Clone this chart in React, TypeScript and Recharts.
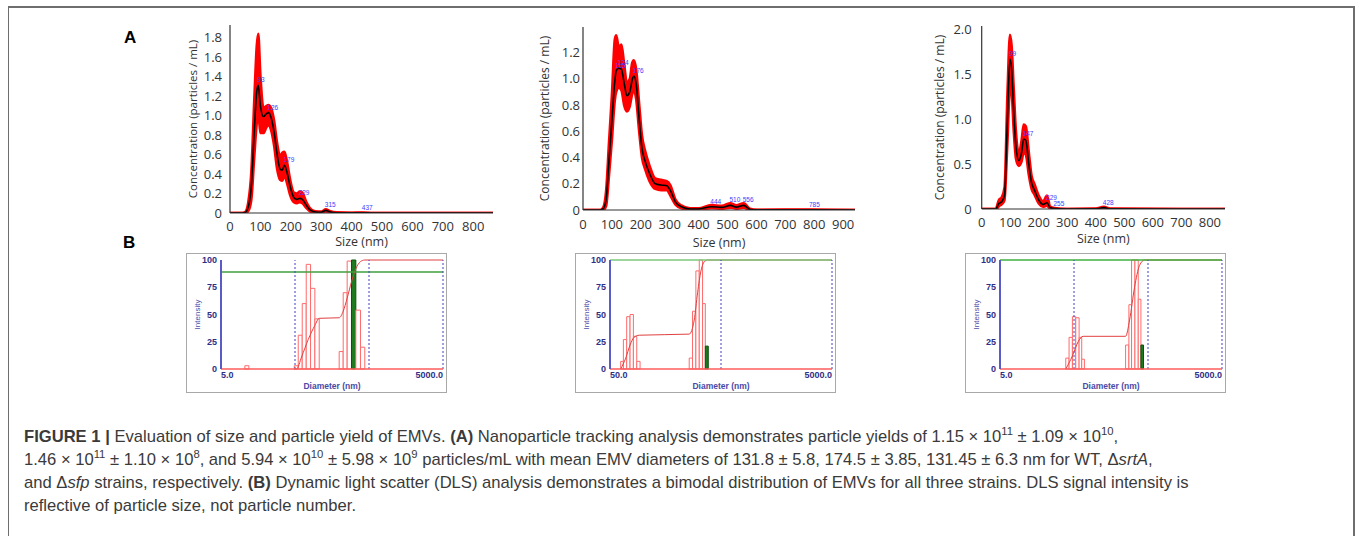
import React from 'react';
import { ComposedChart, Area, Line, XAxis, YAxis, LabelList, ReferenceArea, ReferenceLine } from 'recharts';

// ---- A: nanoparticle tracking (size nm -> concentration) ----
const wtSize = [0, 40, 50, 60, 70, 80, 88, 93, 100, 110, 120, 126, 135, 145, 155, 165, 172, 179, 188, 198, 210, 220, 229, 238, 250, 262, 280, 300, 315, 330, 350, 400, 437, 470, 865];
const wtMean = [0, 0, 0.005, 0.06, 0.27, 0.85, 1.25, 1.31, 1.1, 0.99, 1.02, 1.03, 0.98, 0.83, 0.6, 0.45, 0.44, 0.49, 0.41, 0.27, 0.16, 0.14, 0.15, 0.14, 0.085, 0.035, 0.01, 0.008, 0.027, 0.01, 0.003, 0.001, 0.003, 0, 0];
const wtLow = [0, 0, 0, 0.02, 0.13, 0.58, 0.92, 1.02, 0.82, 0.82, 0.88, 0.9, 0.85, 0.69, 0.45, 0.34, 0.33, 0.38, 0.3, 0.18, 0.11, 0.1, 0.11, 0.1, 0.055, 0.02, 0.004, 0.003, 0.016, 0.004, 0, 0, 0.001, 0, 0];
const wtHigh = [0, 0, 0.01, 0.11, 0.42, 1.18, 1.72, 1.84, 1.42, 1.08, 1.1, 1.11, 1.08, 0.95, 0.72, 0.58, 0.62, 0.63, 0.52, 0.34, 0.21, 0.2, 0.22, 0.21, 0.12, 0.055, 0.017, 0.015, 0.038, 0.018, 0.007, 0.003, 0.006, 0.001, 0];
const wtPeaks = [93, 126, 179, 229, 315, 437];

const srtSize = [0, 60, 70, 80, 90, 100, 110, 115, 124, 133, 142, 152, 162, 170, 176, 184, 194, 204, 215, 230, 250, 270, 290, 302, 320, 340, 370, 400, 444, 480, 510, 530, 556, 578, 600, 785, 941];
const srtMean = [0, 0, 0.01, 0.08, 0.38, 0.68, 0.98, 1.06, 1.08, 1.07, 0.97, 0.87, 0.9, 0.99, 1.02, 0.96, 0.7, 0.47, 0.37, 0.28, 0.2, 0.19, 0.185, 0.15, 0.06, 0.025, 0.008, 0.008, 0.025, 0.02, 0.035, 0.022, 0.035, 0.004, 0.001, 0.002, 0];
const srtLow = [0, 0, 0, 0.03, 0.26, 0.53, 0.83, 0.9, 0.93, 0.91, 0.8, 0.75, 0.79, 0.88, 0.91, 0.84, 0.6, 0.4, 0.31, 0.22, 0.16, 0.15, 0.15, 0.11, 0.04, 0.013, 0.003, 0.003, 0.013, 0.01, 0.018, 0.01, 0.018, 0, 0, 0, 0];
const srtHigh = [0, 0, 0.02, 0.15, 0.52, 0.88, 1.3, 1.33, 1.24, 1.26, 1.12, 0.97, 1.0, 1.12, 1.14, 1.07, 0.82, 0.57, 0.45, 0.34, 0.24, 0.23, 0.22, 0.19, 0.08, 0.035, 0.013, 0.013, 0.038, 0.032, 0.052, 0.037, 0.052, 0.009, 0.002, 0.004, 0];
const srtPeaks = [115, 124, 176, 444, 510, 556, 785];

const sfpSize = [0, 50, 55, 60, 70, 80, 90, 99, 105, 112, 120, 130, 140, 147, 155, 165, 175, 185, 200, 215, 229, 240, 255, 300, 400, 428, 450, 853];
const sfpMean = [0, 0, 0.03, 0.06, 0.08, 0.15, 0.98, 1.67, 1.55, 1.1, 0.7, 0.54, 0.63, 0.78, 0.76, 0.5, 0.29, 0.21, 0.1, 0.05, 0.07, 0.015, 0.005, 0, 0.002, 0.015, 0.002, 0];
const sfpLow = [0, 0, 0.01, 0.03, 0.05, 0.1, 0.72, 1.33, 1.28, 0.88, 0.56, 0.48, 0.53, 0.63, 0.6, 0.38, 0.22, 0.16, 0.06, 0.025, 0.035, 0.004, 0, 0, 0, 0.007, 0, 0];
const sfpHigh = [0, 0, 0.05, 0.1, 0.13, 0.24, 1.27, 1.94, 1.82, 1.37, 0.87, 0.62, 0.77, 0.94, 0.92, 0.64, 0.37, 0.28, 0.15, 0.085, 0.15, 0.028, 0.011, 0, 0.005, 0.024, 0.005, 0];
const sfpPeaks = [99, 147, 229, 255, 428];

// ---- B: DLS intensity bins (nm) ----
const dlsWtFrom = [10.5, 48.9, 55.3, 62.6, 70.9, 81.1, 92.8, 197.7, 224, 253.5, 290, 332, 383.6];
const dlsWtTo = [11.9, 55.3, 62.6, 70.9, 81.1, 92.8, 106.2, 224, 253.5, 290, 332, 383.6, 438.7];
const dlsWtPct = [3, 3, 31, 60, 96, 74, 46, 16, 70, 99, 100, 54, 20];
const dlsWtGreen = 10;
const dlsWtCumSize = [48.9, 52.6, 61.3, 75.4, 92.8, 106, 197.7, 224, 253.5, 290, 332, 383.6, 438.7, 5000];
const dlsWtCumPct = [0, 0, 11, 27, 40, 46.5, 47, 53, 65, 80, 92, 98.5, 100, 100];

const dlsSrtFrom = [62.4, 66, 70.7, 75.8, 81.2, 87.1, 258.6, 277, 297, 318.5, 341, 361];
const dlsSrtTo = [66, 70.7, 75.8, 81.2, 87.1, 93.3, 277, 297, 318.5, 341, 361, 384];
const dlsSrtPct = [7, 27, 48, 50, 30, 7, 10, 53, 90, 100, 60, 21];
const dlsSrtGreen = 11;
const dlsSrtCumSize = [62.4, 69.3, 75.8, 82.3, 91.5, 258.6, 287, 307.6, 330, 358, 379, 5000];
const dlsSrtCumPct = [0, 10, 22, 29, 31, 32, 45, 70, 90, 99, 100, 100];

const dlsSfpFrom = [38.7, 42.9, 47.6, 52.8, 58.6, 63.6, 249, 276, 300, 333, 369, 401];
const dlsSfpTo = [42.9, 47.6, 52.8, 58.6, 63.6, 69.1, 276, 300, 333, 369, 401, 435];
const dlsSfpPct = [10, 29, 48, 47, 29, 9, 22, 59, 100, 100, 64, 22];
const dlsSfpGreen = 11;
const dlsSfpCumSize = [38.7, 47.6, 56.9, 66.3, 249, 282, 329, 384, 449, 5000];
const dlsSfpCumPct = [0, 12, 25, 30, 30, 45, 75, 95, 100, 100];

const fmtConc = (v: number) => (v === 0 ? '0' : v.toFixed(1));
const ntaFont = '"Open Sans", sans-serif';
const dlsFont = '"Liberation Sans", Arial, sans-serif';

const PeakLabel = (p: any) => {
  if (!p.value) return null;
  return (
    <text x={p.x - 1} y={p.y - 3} fontSize={6.5} fill="#3c3cff" fontFamily={dlsFont}>
      {p.value}
    </text>
  );
};

function NtaChart(props: any) {
  const { size, mean, low, high, peaks, pos, margin, xMax, xTicks, yMax, yTicks, yLabelOffset, yLabelSize, xLabelOffset, xTickMargin, yTickMargin } = props;
  const data = size.map((s: number, i: number) => ({
    size: s,
    mean: mean[i],
    band: [low[i], high[i]],
    peak: peaks.includes(s) ? String(s) : undefined,
  }));
  return (
    <div style={{ position: 'absolute', left: pos[0], top: pos[1] }}>
      <ComposedChart width={pos[2]} height={pos[3]} data={data} margin={margin}>
        <XAxis
          type="number"
          dataKey="size"
          domain={[0, xMax]}
          ticks={xTicks}
          interval={0}
          allowDataOverflow
          tickLine={false}
          tickMargin={xTickMargin}
          height={30}
          axisLine={{ stroke: '#333', strokeWidth: 1.2 }}
          tick={{ fontSize: 13, fill: '#333', fontFamily: ntaFont }}
          label={{ value: 'Size (nm)', position: 'insideBottom', offset: xLabelOffset, fontSize: 12.5, fill: '#333', fontFamily: ntaFont }}
        />
        <YAxis
          type="number"
          domain={[0, yMax]}
          ticks={yTicks}
          interval={0}
          allowDataOverflow
          tickFormatter={fmtConc}
          width={60}
          tickLine={false}
          tickMargin={yTickMargin}
          axisLine={{ stroke: '#333', strokeWidth: 1.2 }}
          tick={{ fontSize: 13, fill: '#333', fontFamily: ntaFont }}
          label={{ value: 'Concentration (particles / mL)', angle: -90, position: 'insideLeft', offset: yLabelOffset, fontSize: yLabelSize, fill: '#333', fontFamily: ntaFont, style: { textAnchor: 'middle' } }}
        />
        <Area dataKey="band" type="monotone" stroke="#ff0000" strokeWidth={2.5} fill="#ff0000" fillOpacity={1} isAnimationActive={false} />
        <Line dataKey="mean" type="monotone" stroke="#000" strokeWidth={1.6} dot={false} isAnimationActive={false}>
          <LabelList dataKey="peak" content={PeakLabel} />
        </Line>
      </ComposedChart>
    </div>
  );
}

function DlsChart(props: any) {
  const { left, from, to, pct, green, cumSize, cumPct, domain, greenLevel, greenColor, dotted } = props;
  const data = cumSize.map((d: number, i: number) => ({ d, pct: cumPct[i] }));
  const renderTick = (t: any) => {
    const first = t.index === 0;
    return (
      <text x={t.x} y={t.y + 7} textAnchor={first ? 'start' : 'end'} fontSize={9} fontWeight="bold" fill="#2f2f86" fontFamily={dlsFont}>
        {t.payload.value.toFixed(1)}
      </text>
    );
  };
  return (
    <div style={{ position: 'absolute', left, top: 253, width: 261, height: 140, border: '1px solid #a8a8a8', boxSizing: 'border-box', background: '#fff' }}>
      <ComposedChart width={259} height={138} data={data} margin={{ top: 6, right: 3, bottom: 0, left: 4 }}>
        <XAxis
          type="number"
          dataKey="d"
          scale="log"
          domain={domain}
          ticks={domain}
          interval={0}
          allowDataOverflow
          height={23}
          tickLine={false}
          tickSize={0}
          axisLine={{ stroke: '#ff5c5c', strokeWidth: 1.5 }}
          tick={renderTick}
          label={{ value: 'Diameter (nm)', position: 'insideBottom', offset: 3.5, fontSize: 8.5, fontWeight: 'bold', fill: '#4a4aa6', fontFamily: dlsFont }}
        />
        <YAxis
          type="number"
          domain={[0, 100]}
          ticks={[0, 25, 50, 75, 100]}
          interval={0}
          width={30}
          tickLine={false}
          tickSize={2}
          tickMargin={2}
          axisLine={{ stroke: '#5b5bc8', strokeWidth: 2 }}
          tick={{ fontSize: 9, fontWeight: 'bold', fill: '#2f2f86', fontFamily: dlsFont }}
          label={{ value: 'Intensity', angle: -90, position: 'insideLeft', offset: 6, fontSize: 8, fill: '#5050a8', fontFamily: dlsFont, style: { textAnchor: 'middle' } }}
        />
        {from.map((f: number, i: number) => (
          <ReferenceArea
            key={i}
            x1={f}
            x2={to[i]}
            y1={0}
            y2={pct[i]}
            ifOverflow="visible"
            fill={i === green ? '#1f7a1f' : '#ffffff'}
            fillOpacity={1}
            stroke={i === green ? '#0f4f0f' : '#ff6a6a'}
            strokeWidth={1}
          />
        ))}
        <Line dataKey="pct" type="monotone" stroke="#e04040" strokeWidth={1} dot={false} isAnimationActive={false} />
        <ReferenceLine y={greenLevel} stroke={greenColor} strokeWidth={1.5} ifOverflow="visible" />
        {dotted.map((x: number) => (
          <ReferenceLine key={x} x={x} stroke="#4040c0" strokeDasharray="2 2" strokeWidth={1} ifOverflow="visible" />
        ))}
      </ComposedChart>
    </div>
  );
}

const sup = { fontSize: '0.68em', verticalAlign: 'super', lineHeight: 0 } as React.CSSProperties;

export default function App() {
  return (
    <div style={{ position: 'absolute', left: 0, top: 0, width: 1357, height: 536, overflow: 'hidden', background: '#fff' }}>
      <div style={{ position: 'absolute', left: 8, top: 6, width: 1347, height: 600, borderTop: '2px solid #6e6e6e', borderLeft: '1px solid #6e6e6e', borderRight: '2px solid #6e6e6e', boxSizing: 'border-box' }} />
      <div style={{ position: 'absolute', left: 124, top: 29, fontFamily: dlsFont, fontWeight: 'bold', fontSize: 17, lineHeight: '17px' }}>A</div>
      <div style={{ position: 'absolute', left: 123, top: 234, fontFamily: dlsFont, fontWeight: 'bold', fontSize: 17, lineHeight: '17px' }}>B</div>

      <NtaChart
        size={wtSize} mean={wtMean} low={wtLow} high={wtHigh} peaks={wtPeaks}
        pos={[150, 10, 360, 245]}
        margin={{ top: 15, right: 17, bottom: 12, left: 20 }}
        xMax={865} xTicks={[0, 100, 200, 300, 400, 500, 600, 700, 800]}
        yMax={1.93} yTicks={[0, 0.2, 0.4, 0.6, 0.8, 1.0, 1.2, 1.4, 1.6, 1.8]}
        yLabelOffset={23} yLabelSize={11.5} xLabelOffset={-3} xTickMargin={3} yTickMargin={2}
      />
      <NtaChart
        size={srtSize} mean={srtMean} low={srtLow} high={srtHigh} peaks={srtPeaks}
        pos={[500, 10, 370, 245]}
        margin={{ top: 17, right: 15, bottom: 15, left: 23 }}
        xMax={941} xTicks={[0, 100, 200, 300, 400, 500, 600, 700, 800, 900]}
        yMax={1.393} yTicks={[0, 0.2, 0.4, 0.6, 0.8, 1.0, 1.2]}
        yLabelOffset={22} yLabelSize={12} xLabelOffset={-7} xTickMargin={4} yTickMargin={-3}
      />
      <NtaChart
        size={sfpSize} mean={sfpMean} low={sfpLow} high={sfpHigh} peaks={sfpPeaks}
        pos={[900, 10, 340, 245]}
        margin={{ top: 16, right: 15, bottom: 16, left: 21.7 }}
        xMax={853} xTicks={[0, 100, 200, 300, 400, 500, 600, 700, 800]}
        yMax={2.037} yTicks={[0, 0.5, 1.0, 1.5, 2.0]}
        yLabelOffset={18} yLabelSize={12} xLabelOffset={-4} xTickMargin={3} yTickMargin={4}
      />

      <DlsChart left={186} from={dlsWtFrom} to={dlsWtTo} pct={dlsWtPct} green={dlsWtGreen}
        cumSize={dlsWtCumSize} cumPct={dlsWtCumPct} domain={[5, 5000]} greenLevel={89} greenColor="#3f9f3f" dotted={[50, 500, 5000]} />
      <DlsChart left={575} from={dlsSrtFrom} to={dlsSrtTo} pct={dlsSrtPct} green={dlsSrtGreen}
        cumSize={dlsSrtCumSize} cumPct={dlsSrtCumPct} domain={[50, 5000]} greenLevel={100} greenColor="#7cc87c" dotted={[500, 5000]} />
      <DlsChart left={965} from={dlsSfpFrom} to={dlsSfpTo} pct={dlsSfpPct} green={dlsSfpGreen}
        cumSize={dlsSfpCumSize} cumPct={dlsSfpCumPct} domain={[5, 5000]} greenLevel={100} greenColor="#3fb03f" dotted={[50, 500, 5000]} />

      <div style={{ position: 'absolute', left: 24, top: 425, fontFamily: dlsFont, fontSize: 16.6, lineHeight: '23px', color: '#3a3a3a', whiteSpace: 'nowrap' }}>
        <div>
          <b>FIGURE 1 |</b> Evaluation of size and particle yield of EMVs. <b>(A)</b> Nanoparticle tracking analysis demonstrates particle yields of 1.15 × 10<span style={sup}>11</span> ± 1.09 × 10<span style={sup}>10</span>,
        </div>
        <div>
          1.46 × 10<span style={sup}>11</span> ± 1.10 × 10<span style={sup}>8</span>, and 5.94 × 10<span style={sup}>10</span> ± 5.98 × 10<span style={sup}>9</span> particles/mL with mean EMV diameters of 131.8 ± 5.8, 174.5 ± 3.85, 131.45 ± 6.3 nm for WT, Δ<i>srtA</i>,
        </div>
        <div>
          and Δ<i>sfp</i> strains, respectively. <b>(B)</b> Dynamic light scatter (DLS) analysis demonstrates a bimodal distribution of EMVs for all three strains. DLS signal intensity is
        </div>
        <div>reflective of particle size, not particle number.</div>
      </div>
    </div>
  );
}
